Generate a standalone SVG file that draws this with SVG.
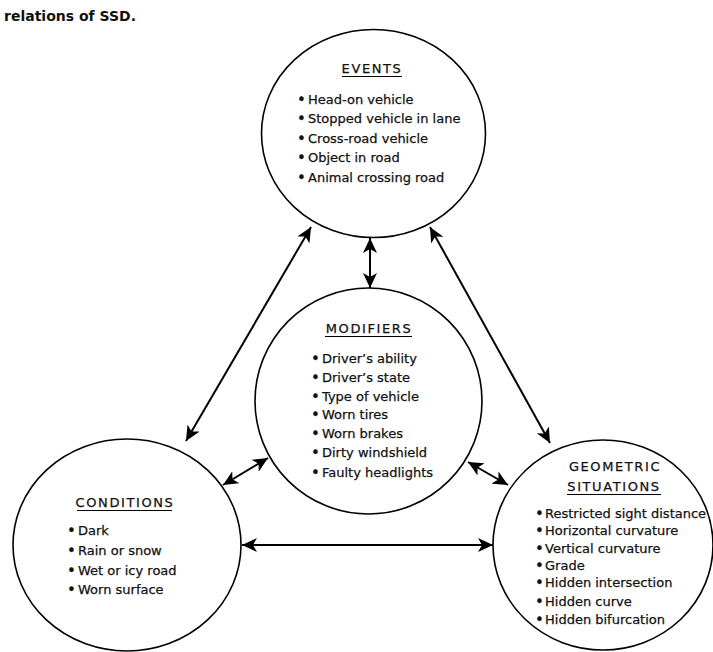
<svg xmlns="http://www.w3.org/2000/svg" width="713" height="652" viewBox="0 0 713 652">
<style>
.c{fill:none;stroke:#000;stroke-width:1.6}
.t{font-family:"DejaVu Sans","Liberation Sans",sans-serif;font-size:13px;fill:#111;stroke:#111;stroke-width:0.25}
.t text:nth-child(odd){font-size:15px;transform:translateY(1px)}
.h{font-family:"DejaVu Sans","Liberation Sans",sans-serif;font-size:13px;fill:#111;stroke:#111;stroke-width:0.25;letter-spacing:1.6px}
.u{stroke:#000;stroke-width:1.2}
.a{stroke:#000;stroke-width:2;fill:none;marker-start:url(#ah);marker-end:url(#ah)}
</style>
<defs>
<marker id="ah" markerUnits="userSpaceOnUse" markerWidth="16" markerHeight="14" viewBox="0 0 16 14" refX="15" refY="7" orient="auto-start-reverse">
<path d="M0,0 L15,7 L0,14 L4,7 z" fill="#000"/>
</marker>
</defs>
<text x="4" y="21" font-family="DejaVu Sans, Liberation Sans, sans-serif" font-size="14" font-weight="bold" fill="#111">relations of SSD.</text>
<g id="events">
<ellipse class="c" cx="373.5" cy="133.5" rx="112" ry="104"/>
<text class="h" x="372" y="73" text-anchor="middle">EVENTS</text>
<line class="u" x1="342" y1="76.5" x2="402" y2="76.5"/>
<g class="t">
<text x="297" y="104">•</text><text x="308" y="104">Head-on vehicle</text>
<text x="297" y="123">•</text><text x="308" y="123">Stopped vehicle in lane</text>
<text x="297" y="143">•</text><text x="308" y="143">Cross-road vehicle</text>
<text x="297" y="162">•</text><text x="308" y="162">Object in road</text>
<text x="297" y="182">•</text><text x="308" y="182">Animal crossing road</text>
</g>
</g>
<g id="modifiers">
<ellipse class="c" cx="368.5" cy="401" rx="113.5" ry="113"/>
<text class="h" x="369" y="333" text-anchor="middle">MODIFIERS</text>
<line class="u" x1="325" y1="336.5" x2="412" y2="336.5"/>
<g class="t">
<text x="311" y="363">•</text><text x="322" y="363">Driver’s ability</text>
<text x="311" y="382">•</text><text x="322" y="382">Driver’s state</text>
<text x="311" y="401">•</text><text x="322" y="401">Type of vehicle</text>
<text x="311" y="419">•</text><text x="322" y="419">Worn tires</text>
<text x="311" y="438">•</text><text x="322" y="438">Worn brakes</text>
<text x="311" y="457">•</text><text x="322" y="457">Dirty windshield</text>
<text x="311" y="477">•</text><text x="322" y="477">Faulty headlights</text>
</g>
</g>
<g id="conditions">
<ellipse class="c" cx="127" cy="545" rx="114" ry="106"/>
<text class="h" x="125" y="507" text-anchor="middle">CONDITIONS</text>
<line class="u" x1="77" y1="510.5" x2="172" y2="510.5"/>
<g class="t">
<text x="67" y="535">•</text><text x="78" y="535">Dark</text>
<text x="67" y="555">•</text><text x="78" y="555">Rain or snow</text>
<text x="67" y="575">•</text><text x="78" y="575">Wet or icy road</text>
<text x="67" y="594">•</text><text x="78" y="594">Worn surface</text>
</g>
</g>
<g id="geometric">
<ellipse class="c" cx="603" cy="545" rx="110" ry="105"/>
<text class="h" x="615" y="471" text-anchor="middle">GEOMETRIC</text>
<text class="h" x="614" y="491" text-anchor="middle">SITUATIONS</text>
<line class="u" x1="567" y1="494.5" x2="661" y2="494.5"/>
<g class="t">
<text x="535" y="518">•</text><text x="545" y="518">Restricted sight distance</text>
<text x="535" y="535">•</text><text x="545" y="535">Horizontal curvature</text>
<text x="535" y="553">•</text><text x="545" y="553">Vertical curvature</text>
<text x="535" y="570">•</text><text x="545" y="570">Grade</text>
<text x="535" y="587">•</text><text x="545" y="587">Hidden intersection</text>
<text x="535" y="606">•</text><text x="545" y="606">Hidden curve</text>
<text x="535" y="624">•</text><text x="545" y="624">Hidden bifurcation</text>
</g>
</g>
<g id="connectors">
<line class="a" x1="311" y1="227" x2="186" y2="441"/>
<line class="a" x1="430" y1="227" x2="550" y2="443"/>
<line class="a" x1="370" y1="238" x2="370" y2="288"/>
<line class="a" x1="268" y1="458" x2="223" y2="485"/>
<line class="a" x1="468" y1="462" x2="508" y2="485"/>
<line class="a" x1="242" y1="545" x2="493" y2="545"/>
</g>
</svg>
